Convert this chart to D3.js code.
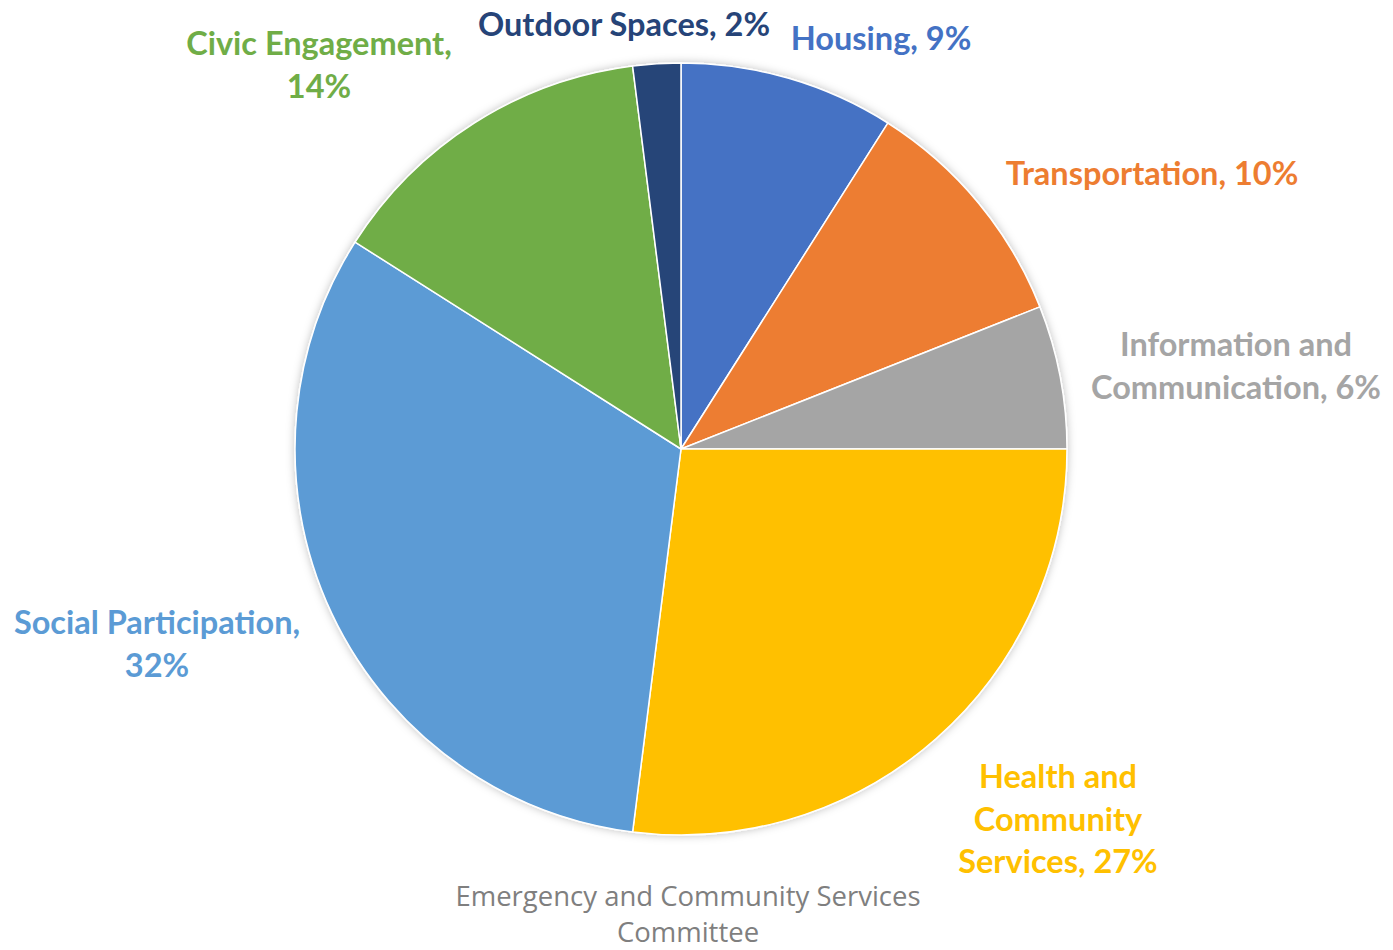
<!DOCTYPE html>
<html>
<head>
<meta charset="utf-8">
<script src="https://cdn.jsdelivr.net/npm/d3@7"></script>
<style>
  html, body { margin: 0; padding: 0; background: #fff; }
  svg { display: block; }
</style>
</head>
<body>
<svg id="chart" width="1393" height="950"></svg>
<script>
// ---- data ----
const categories = ["Housing", "Transportation", "Information and Communication", "Health and Community Services", "Social Participation", "Civic Engagement", "Outdoor Spaces"];
const values = [9, 10, 6, 27, 32, 14, 2];
const colors = ["#4472C4", "#ED7D31", "#A5A5A5", "#FFC000", "#5B9BD5", "#70AD47", "#264478"];
const labelLines = [
  ["Housing, 9%"],
  ["Transportation, 10%"],
  ["Information and", "Communication, 6%"],
  ["Health and", "Community", "Services, 27%"],
  ["Social Participation,", "32%"],
  ["Civic Engagement,", "14%"],
  ["Outdoor Spaces, 2%"]
];
const titleLines = ["Emergency and Community Services", "Committee"];

// ---- layout ----
const W = 1393, H = 950;
const cx = 681, cy = 449, R = 386;
// label anchor (center x, first baseline y)
const labelAnchor = [
  [881, 50], [1152, 185], [1236, 356], [1058, 788], [157, 634], [319, 55], [624, 36]
];
const lineH = 42.5;

const svg = d3.select("#chart");
const defs = svg.append("defs");
const f = defs.append("filter").attr("id", "shadow").attr("x", "-10%").attr("y", "-10%").attr("width", "120%").attr("height", "120%");
f.append("feDropShadow").attr("dx", 0).attr("dy", 0).attr("stdDeviation", 4).attr("flood-color", "#000").attr("flood-opacity", 0.25);

const data = categories.map((c, i) => ({ cat: c, value: values[i], i }));
const pie = d3.pie().value(d => d.value).sort(null);
const arc = d3.arc().innerRadius(0).outerRadius(R);

const g = svg.append("g").attr("transform", `translate(${cx},${cy})`);
g.append("g").attr("filter", "url(#shadow)")
  .selectAll("path").data(pie(data)).join("path")
  .attr("d", arc)
  .attr("fill", d => colors[d.data.i])
  .attr("stroke", "#fff")
  .attr("stroke-width", 1.5)
  .attr("stroke-linejoin", "round");

const labels = svg.append("g")
  .attr("font-family", "Lato, 'Open Sans', sans-serif")
  .attr("font-weight", "bold")
  .attr("font-size", 32.5)
  .attr("text-anchor", "middle");

data.forEach((d, i) => {
  const t = labels.append("text").attr("fill", colors[i]);
  labelLines[i].forEach((ln, k) => {
    t.append("tspan").attr("x", labelAnchor[i][0]).attr("y", labelAnchor[i][1] + k * lineH).text(ln);
  });
});

const title = svg.append("text")
  .attr("font-family", "'Open Sans', sans-serif")
  .attr("font-size", 27.5)
  .attr("fill", "#7F7F7F")
  .attr("text-anchor", "middle");
titleLines.forEach((ln, k) => {
  title.append("tspan").attr("x", 688).attr("y", 906 + k * 36).text(ln);
});
</script>
</body>
</html>
